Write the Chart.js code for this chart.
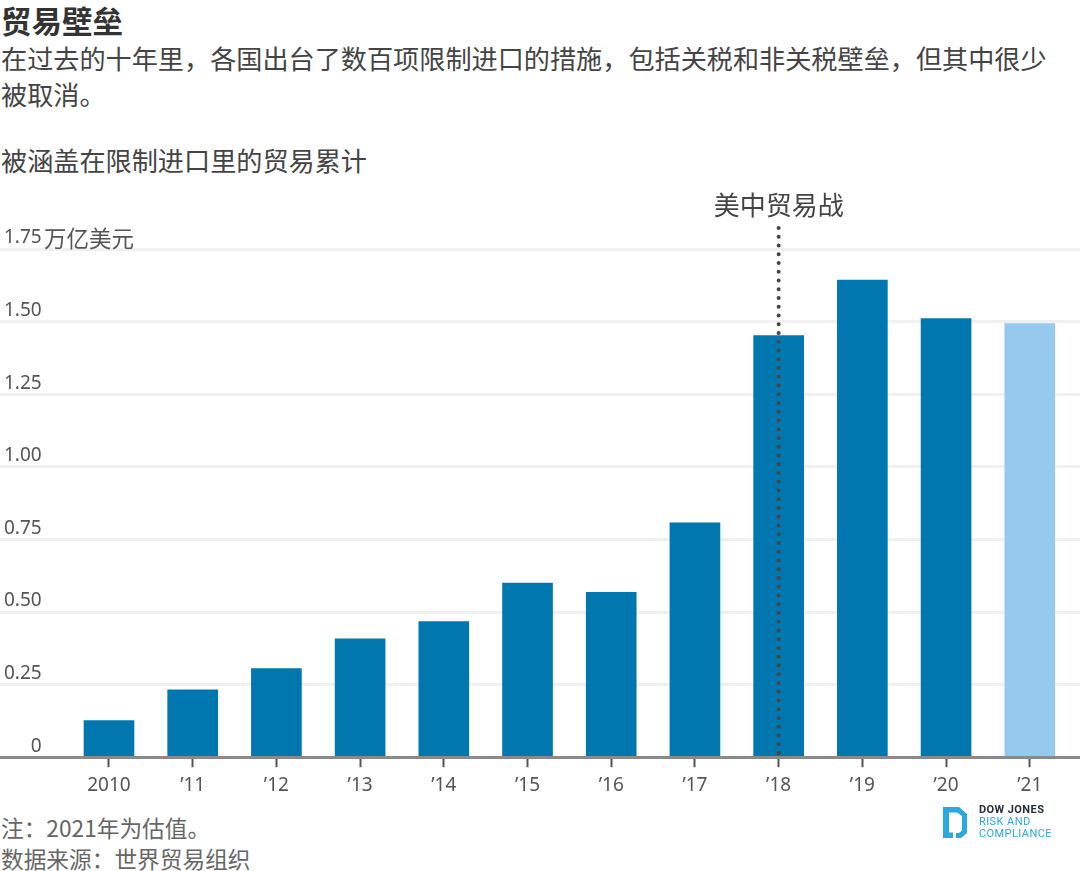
<!DOCTYPE html>
<html lang="zh-CN">
<head>
<meta charset="utf-8">
<title>贸易壁垒</title>
<script src="https://cdn.jsdelivr.net/npm/chart.js@4"></script>
<style>
    html, body { margin: 0; padding: 0; background: #fff; }
    body { position: relative; width: 1080px; height: 871px; overflow: hidden; font-family: "Noto Sans CJK SC", "Noto Sans", sans-serif; color: #444; }
    .txt { position: absolute; left: 1px; margin: 0; white-space: nowrap; font-weight: 400; }
    #head { top: 0; font-size: 30.5px; line-height: 40px; font-weight: 700; color: #333; }
    #deck { top: 40px; font-size: 26.15px; line-height: 36px; }
    #sub { top: 142px; font-size: 26.15px; line-height: 36px; }
    #note { top: 812px; font-size: 22.7px; line-height: 31px; color: #666; }
    #unit { left: 44px; top: 221px; font-size: 22.5px; line-height: 32px; color: #555; }
    #chartBox { position: absolute; left: 0; top: 190px; width: 1080px; height: 614px; }
    #logo { position: absolute; left: 943px; top: 807px; }
    #logoText { position: absolute; left: 979px; top: 804px; font-family: Roboto, sans-serif; font-size: 11px; line-height: 12px; letter-spacing: 0.42px; color: #2aa8e0; white-space: nowrap; }
    #logoText b { color: #222f3a; font-weight: 700; }
</style>
</head>
<body>
<h1 class="txt" id="head">贸易壁垒</h1>
<p class="txt" id="deck">在过去的十年里，各国出台了数百项限制进口的措施，包括关税和非关税壁垒，但其中很少<br>被取消。</p>
<p class="txt" id="sub">被涵盖在限制进口里的贸易累计</p>
<div id="chartBox"><canvas id="chart" width="1080" height="614"></canvas></div>
<p class="txt" id="unit">万亿美元</p>
<p class="txt" id="note">注：2021年为估值。<br>数据来源：世界贸易组织</p>
<svg id="logo" width="25" height="32" viewBox="0 0 25 32">
    <path d="M0 0H16L24 7V26L18 31H13V26H16L19 23.5V9L14 5.5H6V25.5H10V31H0Z" fill="#2aa8e0"/>
</svg>
<div id="logoText"><b>DOW JONES</b><br>RISK AND<br>COMPLIANCE</div>

<script>
const categories = ['2010', '’11', '’12', '’13', '’14', '’15', '’16', '’17', '’18', '’19', '’20', '’21'];
const tradeValues = [0.126, 0.232, 0.305, 0.408, 0.467, 0.600, 0.568, 0.807, 1.452, 1.643, 1.510, 1.493];
const yTickLabels = ['\u2007\u2008\u20070', '0.25', '0.50', '0.75', '1.00', '1.25', '1.50', '1.75'];
const warLabel = '美中贸易战';
const warCategory = '’18';
const estimateCategory = '’21';

const BAR_COLOR = '#0077ae';
const ESTIMATE_COLOR = '#95c9ee';
const CJK_FONT = '"Noto Sans CJK SC", "Noto Sans", sans-serif';
const TICK_FONT = '"Noto Sans", "Noto Sans CJK SC", sans-serif';

// Dotted marker for the start of the trade war, drawn over the bars
const warMarker = {
    id: 'warMarker',
    afterDatasetsDraw(chart) {
        const { ctx, scales } = chart;
        const x = scales.x.getPixelForValue(categories.indexOf(warCategory));
        ctx.save();
        ctx.strokeStyle = '#444';
        ctx.lineWidth = 4;
        ctx.lineCap = 'round';
        ctx.setLineDash([0, 8.75]);
        ctx.beginPath();
        ctx.moveTo(x, 38);
        ctx.lineTo(x, scales.y.getPixelForValue(0));
        ctx.stroke();
        ctx.setLineDash([]);
        ctx.fillStyle = '#444';
        ctx.font = '26px ' + CJK_FONT;
        ctx.textAlign = 'center';
        ctx.textBaseline = 'middle';
        ctx.fillText(warLabel, x, 15);
        ctx.restore();
    }
};

new Chart(document.getElementById('chart'), {
    type: 'bar',
    data: {
        datasets: [{
            data: tradeValues.map((v, i) => ({ x: i, y: v })),
            backgroundColor: categories.map(c => c === estimateCategory ? ESTIMATE_COLOR : BAR_COLOR),
            barThickness: 50,
            borderWidth: 0
        }]
    },
    options: {
        responsive: false,
        animation: false,
        layout: { padding: { top: 59 } },
        plugins: { legend: { display: false }, tooltip: { enabled: false } },
        scales: {
            x: {
                type: 'linear',
                offset: false,
                min: -1.302,
                max: 11.6,
                afterBuildTicks: axis => { axis.ticks = categories.map((_, i) => ({ value: i })); },
                afterFit: axis => { axis.paddingLeft = 0; axis.paddingRight = 0; },
                grid: { offset: false, drawOnChartArea: false, drawTicks: true, tickLength: 10, tickWidth: 2, tickColor: '#555' },
                border: { color: '#8a8a8a', width: 3 },
                ticks: {
                    autoSkip: false,
                    maxRotation: 0,
                    padding: 7,
                    color: '#555',
                    font: { family: TICK_FONT, size: 19 },
                    callback: v => categories[v]
                }
            },
            y: {
                min: 0,
                max: 1.75,
                afterFit: axis => { axis.width = 0; },
                grid: { color: '#f0f0f0', lineWidth: 3, drawTicks: false, tickLength: 0 },
                border: { display: false },
                ticks: {
                    stepSize: 0.25,
                    mirror: true,
                    padding: 4,
                    color: '#555',
                    font: { family: TICK_FONT, size: 19, lineHeight: 22 / 19 },
                    // the blank second line lifts each label above its grid line
                    callback: (v, i) => [yTickLabels[i], '']
                }
            }
        }
    },
    plugins: [warMarker]
});
</script>
</body>
</html>
